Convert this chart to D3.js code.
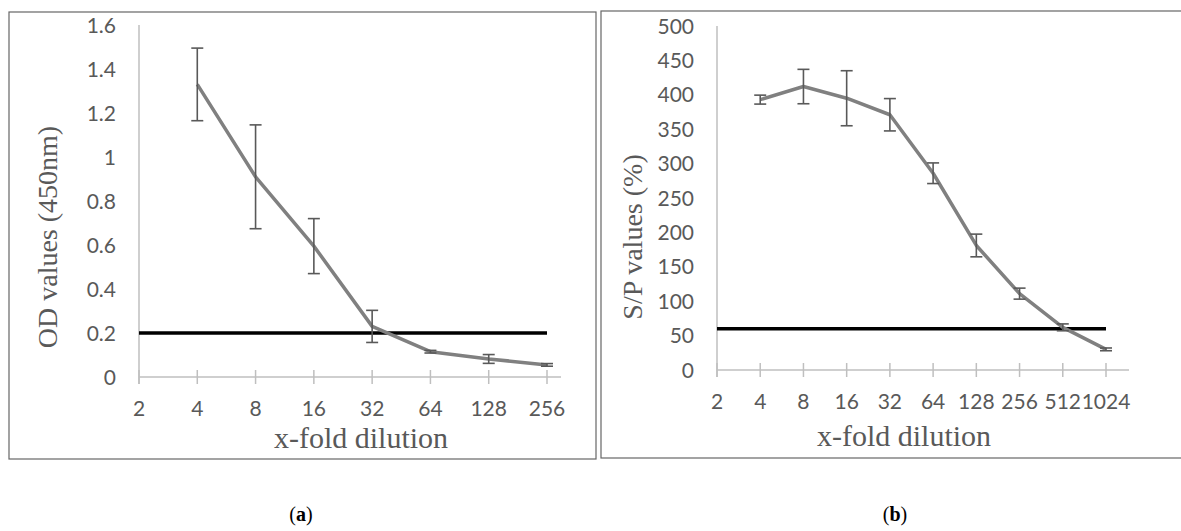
<!DOCTYPE html>
<html>
<head>
<meta charset="utf-8">
<script src="https://cdn.jsdelivr.net/npm/d3@7"></script>
<style>
  html, body { margin: 0; padding: 0; background: #fff; }
  svg { display: block; }
</style>
</head>
<body>
<svg id="chart" width="1181" height="531"></svg>
<script>
// ---------- Data ----------
// Panel (a)
const catsA = ["2", "4", "8", "16", "32", "64", "128", "256"];
const seriesCatsA = ["4", "8", "16", "32", "64", "128", "256"];
const valuesA = [1.33, 0.91, 0.595, 0.23, 0.115, 0.082, 0.055];
const errorsA = [0.165, 0.236, 0.125, 0.073, 0.006, 0.02, 0.006];
const thresholdA = 0.2;
const yTicksA = [0, 0.2, 0.4, 0.6, 0.8, 1, 1.2, 1.4, 1.6];

// Panel (b)
const catsB = ["2", "4", "8", "16", "32", "64", "128", "256", "512", "1024"];
const seriesCatsB = ["4", "8", "16", "32", "64", "128", "256", "512", "1024"];
const valuesB = [393, 412, 395, 371, 286, 181, 111, 62, 30];
const errorsB = [6.5, 25, 40, 23.5, 15, 16.5, 8, 5, 2];
const thresholdB = 60;
const yTicksB = [0, 50, 100, 150, 200, 250, 300, 350, 400, 450, 500];

const svg = d3.select("#chart");
const GRAY_TXT = "#595959";

function panel(cfg) {
  const g = svg.append("g");
  // frame
  g.append("rect")
    .attr("x", cfg.frame[0]).attr("y", cfg.frame[1])
    .attr("width", cfg.frame[2]).attr("height", cfg.frame[3])
    .attr("fill", "none").attr("stroke", "#666").attr("stroke-width", 1.2);

  const x = d3.scalePoint().domain(cfg.cats).range(cfg.xRange);
  const y = d3.scaleLinear().domain([0, cfg.yMax]).range(cfg.yRange);
  const base = y(0);

  // y axis line
  g.append("line")
    .attr("x1", x(cfg.cats[0])).attr("x2", x(cfg.cats[0]))
    .attr("y1", y(cfg.yMax)).attr("y2", base + 7)
    .attr("stroke", "#bfbfbf").attr("stroke-width", 1.5);
  // x axis line
  g.append("line")
    .attr("x1", x(cfg.cats[0])).attr("x2", cfg.xAxisEnd)
    .attr("y1", base).attr("y2", base)
    .attr("stroke", "#bfbfbf").attr("stroke-width", 1.5);
  // x ticks
  g.selectAll(".xt").data(cfg.cats).enter().append("line")
    .attr("x1", d => x(d)).attr("x2", d => x(d))
    .attr("y1", base - 7).attr("y2", base + 7)
    .attr("stroke", "#bfbfbf").attr("stroke-width", 1.5);
  // x tick labels
  g.selectAll(".xl").data(cfg.cats).enter().append("text")
    .attr("x", d => x(d)).attr("y", base + 39)
    .attr("text-anchor", "middle")
    .attr("font-family", "Lato, 'Open Sans', sans-serif")
    .attr("font-size", 21).attr("fill", GRAY_TXT)
    .text(d => d);
  // y tick labels
  g.selectAll(".yl").data(cfg.yTicks).enter().append("text")
    .attr("x", x(cfg.cats[0]) - 23).attr("y", d => y(d))
    .attr("dy", "0.36em")
    .attr("text-anchor", "end")
    .attr("font-family", "Lato, 'Open Sans', sans-serif")
    .attr("font-size", 21).attr("fill", GRAY_TXT)
    .text(d => String(+d.toFixed(1)));

  // threshold line
  g.append("line")
    .attr("x1", x(cfg.cats[0])).attr("x2", x(cfg.cats[cfg.cats.length - 1]))
    .attr("y1", y(cfg.threshold)).attr("y2", y(cfg.threshold))
    .attr("stroke", "#000").attr("stroke-width", 3.5);

  // series line
  const pts = cfg.seriesCats.map((c, i) => ({ c, v: cfg.values[i], e: cfg.errors[i] }));
  const line = d3.line().x(d => x(d.c)).y(d => y(d.v));
  g.append("path").datum(pts)
    .attr("d", line)
    .attr("fill", "none").attr("stroke", "#808080")
    .attr("stroke-width", 3.5).attr("stroke-linejoin", "round");

  // error bars
  const eb = g.selectAll(".eb").data(pts).enter().append("g")
    .attr("stroke", "#595959").attr("stroke-width", 1.6);
  eb.append("line")
    .attr("x1", d => x(d.c)).attr("x2", d => x(d.c))
    .attr("y1", d => y(d.v + d.e)).attr("y2", d => y(d.v - d.e));
  eb.append("line")
    .attr("x1", d => x(d.c) - 6).attr("x2", d => x(d.c) + 6)
    .attr("y1", d => y(d.v + d.e)).attr("y2", d => y(d.v + d.e));
  eb.append("line")
    .attr("x1", d => x(d.c) - 6).attr("x2", d => x(d.c) + 6)
    .attr("y1", d => y(d.v - d.e)).attr("y2", d => y(d.v - d.e));

  // axis titles
  g.append("text")
    .attr("x", cfg.xTitle[0]).attr("y", cfg.xTitle[1])
    .attr("text-anchor", "middle")
    .attr("font-family", "'Liberation Serif', 'Times New Roman', serif")
    .attr("font-size", 30).attr("fill", GRAY_TXT)
    .text("x-fold dilution");
  g.append("text")
    .attr("transform", `translate(${cfg.yTitle[0]},${cfg.yTitle[1]}) rotate(-90)`)
    .attr("dy", "0.32em")
    .attr("text-anchor", "middle")
    .attr("font-family", "'Liberation Serif', 'Times New Roman', serif")
    .attr("font-size", 28).attr("fill", GRAY_TXT)
    .text(cfg.yLabel);

  // panel label
  const lab = g.append("text")
    .attr("x", cfg.label[0]).attr("y", cfg.label[1])
    .attr("text-anchor", "middle")
    .attr("font-family", "'Liberation Serif', 'Times New Roman', serif")
    .attr("font-size", 20).attr("fill", "#000");
  lab.append("tspan").text("(");
  lab.append("tspan").attr("font-weight", "bold").text(cfg.labelLetter);
  lab.append("tspan").text(")");
}

panel({
  frame: [9, 12, 587, 447],
  cats: catsA, seriesCats: seriesCatsA, values: valuesA, errors: errorsA,
  threshold: thresholdA, yTicks: yTicksA, yMax: 1.6,
  xRange: [139, 547], yRange: [377, 25], xAxisEnd: 561,
  xTitle: [361, 448], yTitle: [48, 237], yLabel: "OD values (450nm)",
  label: [301, 521], labelLetter: "a"
});

panel({
  frame: [601, 11, 600, 447],
  cats: catsB, seriesCats: seriesCatsB, values: valuesB, errors: errorsB,
  threshold: thresholdB, yTicks: yTicksB, yMax: 500,
  xRange: [717, 1106], yRange: [370, 26], xAxisEnd: 1129,
  xTitle: [904, 446], yTitle: [633, 237], yLabel: "S/P values (%)",
  label: [895, 521], labelLetter: "b"
});
</script>
</body>
</html>
